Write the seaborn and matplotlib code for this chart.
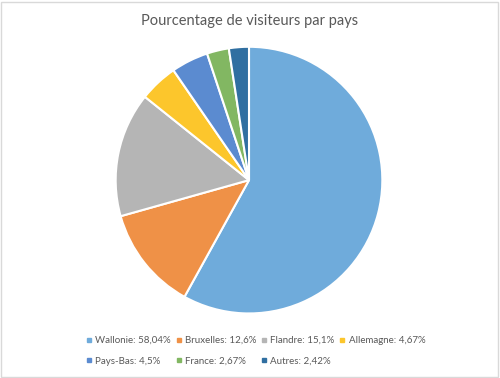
import seaborn as sns
import matplotlib.pyplot as plt
from matplotlib.lines import Line2D
from matplotlib.patches import Rectangle

sns.set_theme(style="white")
plt.rcParams["font.family"] = ["Lato", "DejaVu Sans"]

# data
pays = ["Wallonie", "Bruxelles", "Flandre", "Allemagne", "Pays-Bas", "France", "Autres"]
pourcentages = [58.04, 12.6, 15.1, 4.67, 4.5, 2.67, 2.42]
labels_pct = ["58,04%", "12,6%", "15,1%", "4,67%", "4,5%", "2,67%", "2,42%"]

couleurs = sns.color_palette(["#6FABDB", "#EF9147", "#B5B5B5", "#FCC62C",
                              "#5B8BD0", "#82B762", "#306FA1"])

fig = plt.figure(figsize=(5, 3.78), dpi=100)
fig.patch.set_facecolor("white")

ax = fig.add_axes([0.230, 0.169, 0.536, 0.709])
ax.pie(pourcentages, colors=couleurs, startangle=90, counterclock=False,
       wedgeprops={"edgecolor": "white", "linewidth": 1.5})
ax.set_aspect("auto")
ax.set_xlim(-1.005, 1.005)
ax.set_ylim(-1.005, 1.005)

fig.text(0.5, 0.944, "Pourcentage de visiteurs par pays", ha="center", va="center",
         fontsize=10.5, color="#595959")

handles = [Line2D([], [], marker="s", linestyle="none", markersize=3.5,
                  markerfacecolor=c, markeredgecolor=c) for c in couleurs]
legend_labels = [f"{p}: {v}" for p, v in zip(pays, labels_pct)]
# legend fills column by column -> reorder so rows read left to right
ordre = [0, 4, 1, 5, 2, 6, 3]
leg = fig.legend([handles[i] for i in ordre], [legend_labels[i] for i in ordre],
                 loc="center left", bbox_to_anchor=(0.172, 0.072),
                 ncol=4, frameon=False, fontsize=7, labelcolor="#595959",
                 handlelength=0.6, handletextpad=0.35, columnspacing=0.5,
                 labelspacing=1.2, alignment="left", borderpad=0, borderaxespad=0)

fig.patches.append(Rectangle((0.002, 0.002), 0.994, 0.994, transform=fig.transFigure,
                             fill=False, edgecolor="#D9D9D9", linewidth=1))

fig.savefig("out.png", dpi=100)
